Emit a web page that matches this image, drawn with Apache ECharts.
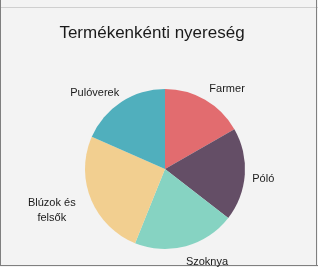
<!DOCTYPE html>
<html><head><meta charset="utf-8">
<style>html,body{margin:0;padding:0;background:#f3f3f3;}#c{width:318px;height:267px;}</style>
<script src="https://cdn.jsdelivr.net/npm/echarts@6/dist/echarts.min.js"></script>
</head><body><div id="c"></div>
<script>
const categories = ['Farmer', 'Póló', 'Szoknya', 'Blúzok és\nfelsők', 'Pulóverek'];
const values = [16.7, 18.8, 20.6, 25.5, 18.4];
const colors = ['#e26c6f', '#644e66', '#86d3c2', '#f2cf90', '#50afbd'];
const titleText = 'Termékenkénti nyereség';

// small nudges to mimic the original label placement
const labelNudge = [[11, 0], [1.5, 4], [13, 4], [-23, 7], [-15, 1]];

const chart = echarts.init(document.getElementById('c'), null, {renderer: 'canvas'});
chart.setOption({
  backgroundColor: '#f3f3f3',
  animation: false,
  title: {
    text: titleText, left: 147, top: 20, textAlign: 'center',
    textStyle: {fontFamily: 'Liberation Sans', fontSize: 17, fontWeight: 'normal', color: '#1a1a1a'}
  },
  graphic: [
    {type: 'line', shape: {x1: 0, y1: 7.5, x2: 318, y2: 7.5}, style: {stroke: '#cfcfcf', lineWidth: 1}},
    {type: 'line', shape: {x1: 0.5, y1: 0, x2: 0.5, y2: 266}, style: {stroke: '#7f7f7f', lineWidth: 1}},
    {type: 'line', shape: {x1: 316.5, y1: 0, x2: 316.5, y2: 266}, style: {stroke: '#7f7f7f', lineWidth: 1}},
    {type: 'line', shape: {x1: 0, y1: 265.5, x2: 318, y2: 265.5}, style: {stroke: '#7f7f7f', lineWidth: 1}}
  ],
  series: [{
    type: 'pie',
    center: [165, 169],
    radius: 80,
    startAngle: 90,
    clockwise: true,
    data: categories.map((c, i) => ({name: c, value: values[i], itemStyle: {color: colors[i]}})),
    label: {
      show: true, position: 'outside', formatter: '{b}',
      fontFamily: 'Liberation Sans', fontSize: 11, color: '#1a1a1a', lineHeight: 15, align: 'center'
    },
    labelLine: {show: false, length: 12, length2: 0},
    labelLayout: function (p) {
      const n = labelNudge[p.dataIndex];
      return {dx: n[0], dy: n[1], align: 'center'};
    },
    emphasis: {disabled: true}
  }]
});
</script></body></html>
